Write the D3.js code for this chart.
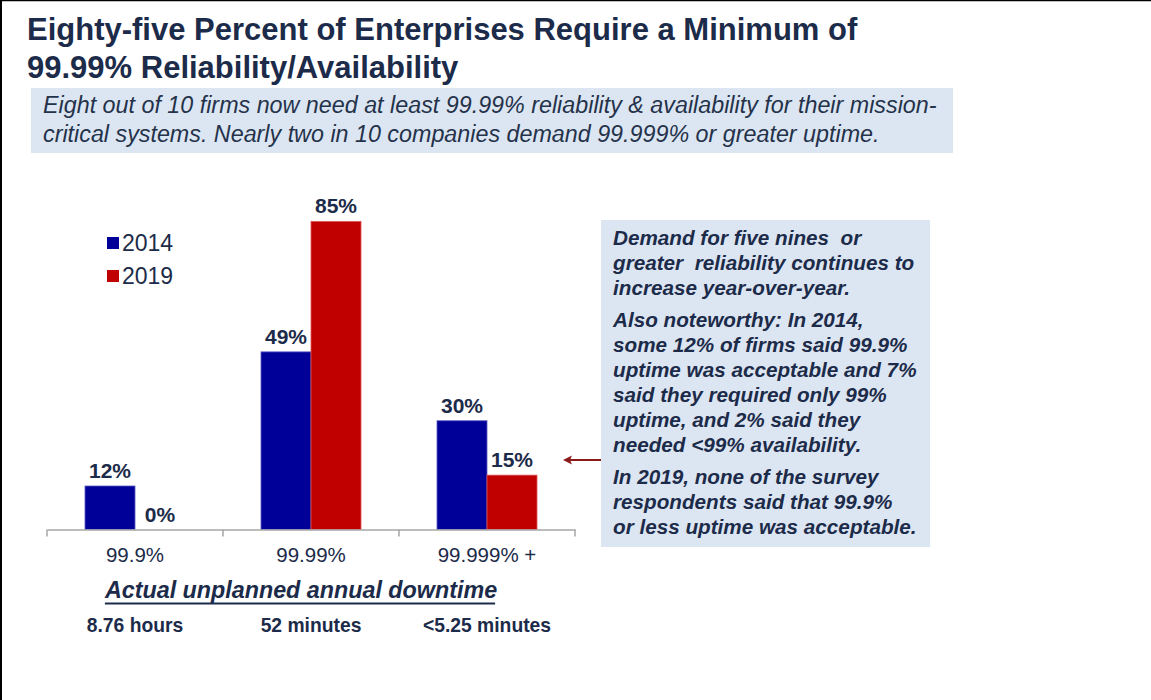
<!DOCTYPE html>
<html>
<head>
<meta charset="utf-8">
<script src="https://cdn.jsdelivr.net/npm/d3@7"></script>
<style>
  html, body { margin: 0; padding: 0; background: #fff; }
  svg { display: block; font-family: "Liberation Sans", Arial, sans-serif; }
  text { white-space: pre; }
</style>
</head>
<body>
<svg id="chart" width="1151" height="700"></svg>
<script>
// ---- data ----
const categories = ["99.9%", "99.99%", "99.999% +"];
const downtime = ["8.76 hours", "52 minutes", "<5.25 minutes"];
const years = ["2014", "2019"];
const values2014 = [12, 49, 30];
const values2019 = [0, 85, 15];

const titleLines = [
  "Eighty-five Percent of Enterprises Require a Minimum of",
  "99.99% Reliability/Availability"
];
const summaryLines = [
  "Eight out of 10 firms now need at least 99.99% reliability & availability for their mission-",
  "critical systems. Nearly two in 10 companies demand 99.999% or greater uptime."
];
const noteParagraphs = [
  ["Demand for five nines  or", "greater  reliability continues to", "increase year-over-year."],
  ["Also noteworthy: In 2014,", "some 12% of firms said 99.9%", "uptime was acceptable and 7%",
   "said they required only 99%", "uptime, and 2% said they", "needed <99% availability."],
  ["In 2019, none of the survey", "respondents said that 99.9%", "or less uptime was acceptable."]
];
const axisTitle = "Actual unplanned annual downtime";

// ---- styling ----
const ink = "#1c2b49";
const colors = { "2014": "#000099", "2019": "#c00000" };
const panelFill = "#dce6f2";
const pointer = "#8b1a1a";

const svg = d3.select("#chart");

// slide frame (left and top edges)
svg.append("rect").attr("x", 0).attr("y", 0).attr("width", 1151).attr("height", 700).attr("fill", "#fff");
svg.append("line").attr("x1", 1).attr("x2", 1).attr("y1", 0).attr("y2", 700).attr("stroke", "#000").attr("stroke-width", 2);
svg.append("line").attr("x1", 0).attr("x2", 1151).attr("y1", 0.5).attr("y2", 0.5).attr("stroke", "#000").attr("stroke-width", 1.5);

function txt(parent, x, y, s, o = {}) {
  return parent.append("text")
    .attr("x", x).attr("y", y)
    .attr("text-anchor", o.anchor || "start")
    .attr("font-size", o.size || 16)
    .attr("font-weight", o.weight || "normal")
    .attr("font-style", o.style || "normal")
    .attr("fill", o.fill || ink)
    .text(s);
}

// ---- title ----
titleLines.forEach((l, i) => txt(svg, 27, 40 + i * 38, l, { size: 31, weight: "bold" }));

// ---- summary panel ----
svg.append("rect").attr("x", 31).attr("y", 88).attr("width", 922).attr("height", 65).attr("fill", panelFill);
summaryLines.forEach((l, i) => txt(svg, 43, 113 + i * 29, l, { size: 23.3, style: "italic", fill: "#24324a" }));

// ---- chart ----
const baseY = 529.5;
const x0 = d3.scaleBand().domain(categories).range([47, 575]).paddingInner(0).paddingOuter(0);
const bw = x0.bandwidth();
const x1 = d3.scaleBand().domain(years).range([bw / 2 - 50, bw / 2 + 50]);
const y = d3.scaleLinear().domain([0, 100]).range([baseY, 167]);

const rows = categories.map((c, i) => ({
  cat: c,
  vals: [{ year: "2014", v: values2014[i] }, { year: "2019", v: values2019[i] }]
}));

const groups = svg.append("g").selectAll("g").data(rows).join("g")
  .attr("transform", d => `translate(${x0(d.cat)},0)`);

groups.selectAll("rect").data(d => d.vals).join("rect")
  .attr("x", d => x1(d.year))
  .attr("width", x1.bandwidth())
  .attr("y", d => y(d.v))
  .attr("height", d => y(0) - y(d.v))
  .attr("fill", d => colors[d.year])
  .attr("stroke", d => d.year === "2014" ? "#5b5bc4" : "#e25858")
  .attr("stroke-width", d => d.v > 0 ? 0.8 : 0);

groups.each(function (d) {
  const g = d3.select(this);
  d.vals.forEach(p => {
    txt(g, x1(p.year) + x1.bandwidth() / 2, y(p.v) - 8, p.v + "%",
      { size: 21, weight: "bold", anchor: "middle" });
  });
});

// category axis
const axis = svg.append("g").attr("transform", `translate(0,${baseY})`)
  .call(d3.axisBottom(x0).tickSize(0).tickPadding(18).tickSizeOuter(0));
axis.select(".domain").attr("stroke", "#a6a6a6").attr("stroke-width", 1.5);
axis.selectAll(".tick text")
  .attr("font-size", 20.5)
  .attr("font-family", "Liberation Sans, Arial, sans-serif")
  .attr("fill", ink);
// boundary tick marks between categories
const bounds = categories.map(c => x0(c)).concat([x0.range()[1]]);
axis.selectAll("line.bound").data(bounds).join("line").attr("class", "bound")
  .attr("x1", d => d).attr("x2", d => d).attr("y1", 0).attr("y2", 7)
  .attr("stroke", "#a6a6a6").attr("stroke-width", 1.5);

// legend
years.forEach((yr, i) => {
  svg.append("rect").attr("x", 107).attr("y", 237 + i * 33).attr("width", 12).attr("height", 12).attr("fill", colors[yr]);
  txt(svg, 122, 251 + i * 33, yr, { size: 23 });
});

// downtime heading and values
const head = txt(svg, 301, 598, axisTitle, { size: 23.3, weight: "bold", style: "italic", anchor: "middle" });
const hw = head.node().getComputedTextLength();
svg.append("line").attr("x1", 301 - hw / 2).attr("x2", 301 + hw / 2 - 2)
  .attr("y1", 603.5).attr("y2", 603.5).attr("stroke", ink).attr("stroke-width", 2);

downtime.forEach((d, i) => txt(svg, x0(categories[i]) + bw / 2, 632, d, { size: 19.3, weight: "bold", anchor: "middle" }));

// ---- note panel with pointer ----
svg.append("rect").attr("x", 601).attr("y", 220).attr("width", 329).attr("height", 327).attr("fill", panelFill);
let ly = 245;
noteParagraphs.forEach(para => {
  para.forEach(l => { txt(svg, 613, ly, l, { size: 20.7, weight: "bold", style: "italic" }); ly += 25; });
  ly += 7;
});

svg.append("line").attr("x1", 601).attr("x2", 569).attr("y1", 460).attr("y2", 460)
  .attr("stroke", pointer).attr("stroke-width", 2);
svg.append("path").attr("d", "M563,460 L572,455.5 L570,460 L572,464.5 Z").attr("fill", pointer);
</script>
</body>
</html>
